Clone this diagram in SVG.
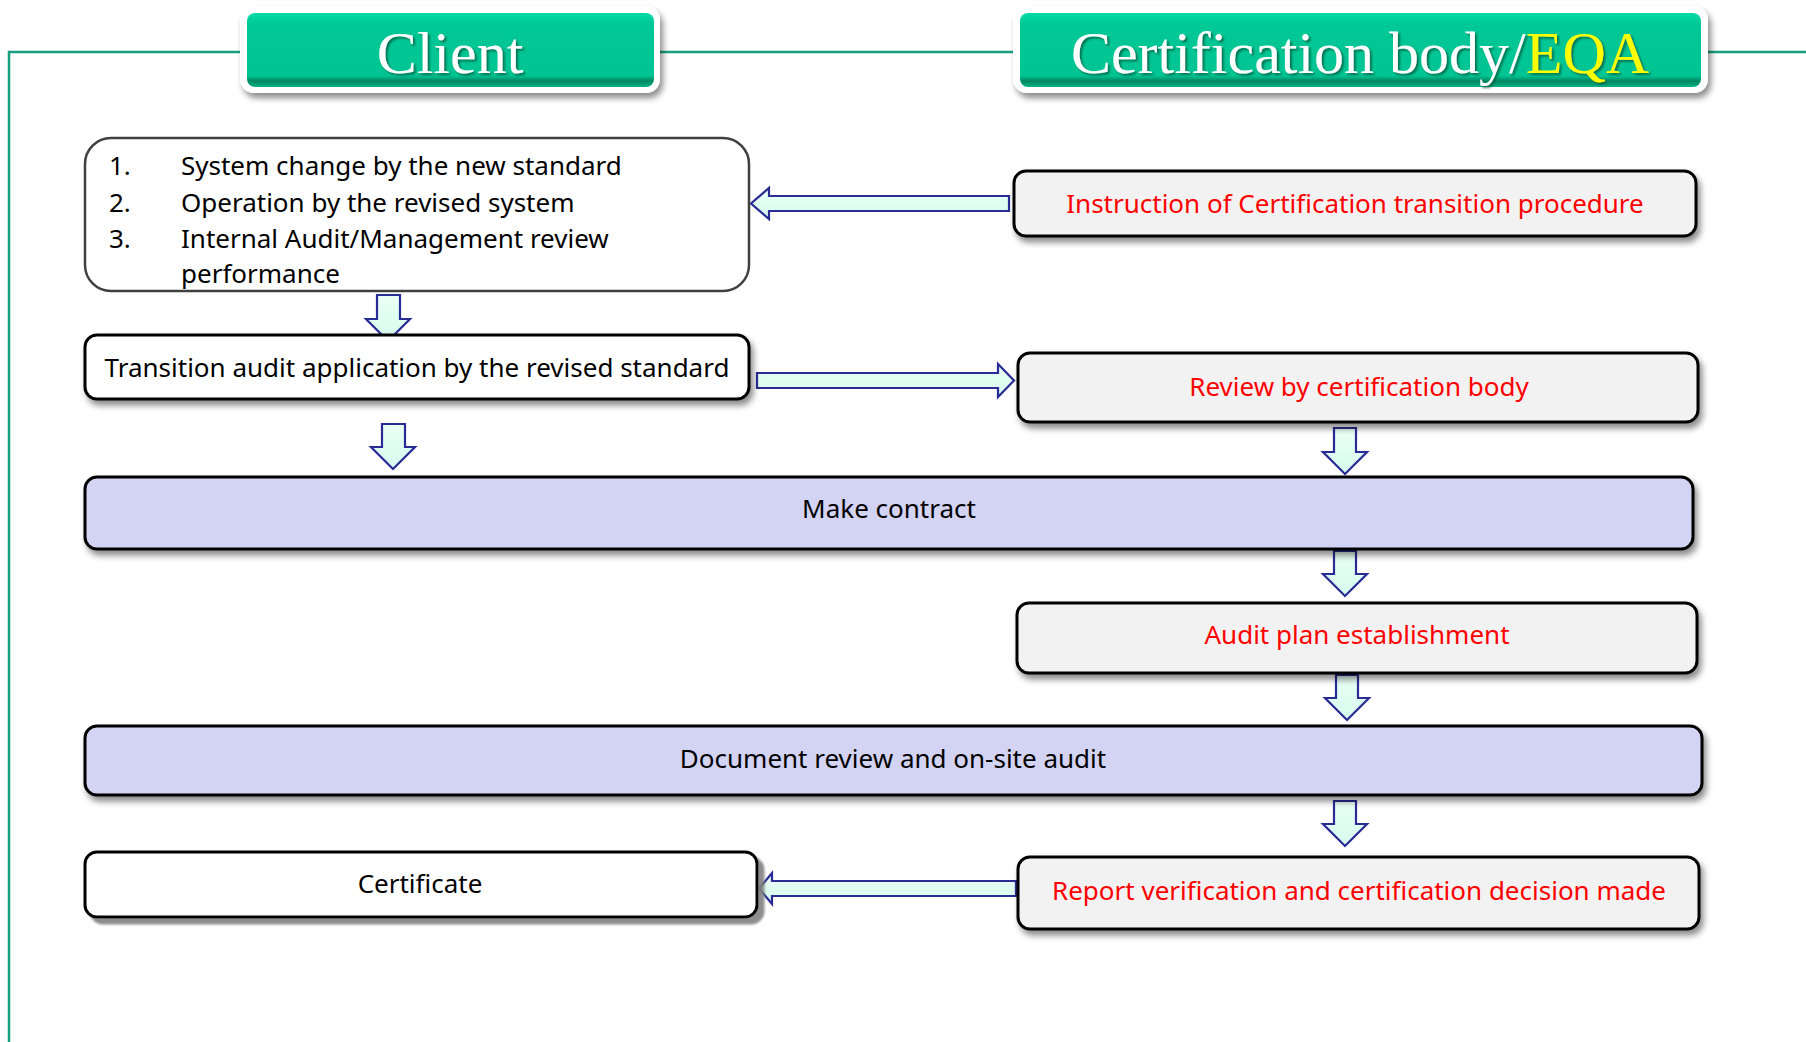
<svg xmlns="http://www.w3.org/2000/svg" width="1806" height="1042" viewBox="0 0 1806 1042">
<defs>
<style>
.t{font-family:"Noto Sans","Open Sans","Liberation Sans",sans-serif;font-size:26px;fill:#000}
.r{fill:#ff0000}
.c{text-anchor:middle}
.hd{font-family:"Liberation Serif","DejaVu Serif",serif;font-size:60px;fill:#fff;text-anchor:middle}
.box{stroke:#000;stroke-width:3}
.wb{fill:#fff}
.gb{fill:#f2f2f2}
.lb{fill:#d3d3f3}
.arr{fill:url(#mint);stroke:#2b2b96;stroke-width:2.2;stroke-linejoin:miter}
.gl{stroke:#16a080;stroke-width:2.5;fill:none}
</style>
<linearGradient id="hg" x1="0" y1="0" x2="0" y2="1">
<stop offset="0" stop-color="#00dba6"/>
<stop offset="0.15" stop-color="#00c896"/>
<stop offset="0.85" stop-color="#00c493"/>
<stop offset="0.92" stop-color="#00865f"/>
<stop offset="1" stop-color="#00b488"/>
</linearGradient>
<linearGradient id="mint" x1="0" y1="0" x2="0" y2="1">
<stop offset="0" stop-color="#eafff6"/>
<stop offset="1" stop-color="#d6fbec"/>
</linearGradient>
<filter id="sh" x="-5%" y="-20%" width="110%" height="150%">
<feDropShadow dx="3" dy="5" stdDeviation="3" flood-color="#000" flood-opacity="0.45"/>
</filter>
<filter id="sh2" x="-5%" y="-20%" width="110%" height="150%">
<feDropShadow dx="6" dy="6" stdDeviation="1" flood-color="#808080" flood-opacity="0.9"/>
</filter>
<filter id="ts" x="-5%" y="-20%" width="110%" height="150%">
<feDropShadow dx="2" dy="2" stdDeviation="1.2" flood-color="#004d36" flood-opacity="0.7"/>
</filter>
</defs>
<rect width="1806" height="1042" fill="#fff"/>
<g id="frame">
<path class="gl" d="M9,1042 V52 H1806"/>
</g>
<g id="hdr-client">
<rect x="240" y="6" width="420" height="87" rx="14" fill="#fff" filter="url(#sh)"/>
<rect x="247" y="13" width="407" height="74" rx="8" fill="url(#hg)"/>
<text class="hd" x="450" y="73" filter="url(#ts)">Client</text>
</g>
<g id="hdr-cb">
<rect x="1013" y="6" width="695" height="87" rx="14" fill="#fff" filter="url(#sh)"/>
<rect x="1020" y="13" width="681" height="74" rx="8" fill="url(#hg)"/>
<text class="hd" x="1360" y="73" filter="url(#ts)">Certification body/<tspan fill="#ffff00">EQA</tspan></text>
</g>
<g id="connectors">
<path class="arr" d="M1009,196 H769 V188 L751,203.5 L769,219 V211 H1009 Z"/>
<path class="arr" d="M757,373 H998 V364 L1014,380.5 L998,397 V388 H757 Z"/>
<path class="arr" d="M1016,881 H772 V873 L759,888.5 L772,904 V896 H1016 Z"/>
<path class="arr" d="M377,295 H400 V319 H410 L388,341 L366,319 H377 Z"/>
<path class="arr" d="M382,424 H405 V447 H415 L393,469 L371,447 H382 Z"/>
<path class="arr" d="M1334,428 H1356 V452 H1367 L1345,474 L1323,452 H1334 Z"/>
<path class="arr" d="M1334,551 H1356 V574 H1367 L1345,596 L1323,574 H1334 Z"/>
<path class="arr" d="M1336,675 H1358 V698 H1369 L1347,720 L1325,698 H1336 Z"/>
<path class="arr" d="M1334,801 H1356 V824 H1367 L1345,846 L1323,824 H1334 Z"/>
</g>
<g id="n-list">
<rect x="85" y="138" width="664" height="153" rx="26" fill="#fff" stroke="#404040" stroke-width="2.5"/>
<text class="t" x="109" y="175">1.</text><text class="t" x="181" y="175">System change by the new standard</text>
<text class="t" x="109" y="212">2.</text><text class="t" x="181" y="212">Operation by the revised system</text>
<text class="t" x="109" y="248">3.</text><text class="t" x="181" y="248">Internal Audit/Management review</text>
<text class="t" x="181" y="283">performance</text>
</g>
<g id="n-instr">
<rect class="box gb" x="1014" y="171" width="682" height="65" rx="12" filter="url(#sh)"/>
<text class="t r c" x="1355" y="213">Instruction of Certification transition procedure</text>
</g>
<g id="n-app">
<rect class="box wb" x="85" y="335" width="664" height="64" rx="12" filter="url(#sh)"/>
<text class="t c" x="417" y="377">Transition audit application by the revised standard</text>
</g>
<g id="n-review">
<rect class="box gb" x="1018" y="353" width="680" height="69" rx="12" filter="url(#sh)"/>
<text class="t r c" x="1359" y="396">Review by certification body</text>
</g>
<g id="n-contract">
<rect class="box lb" x="85" y="477" width="1608" height="72" rx="12" filter="url(#sh)"/>
<text class="t c" x="889" y="518">Make contract</text>
</g>
<g id="n-plan">
<rect class="box gb" x="1017" y="603" width="680" height="70" rx="12" filter="url(#sh)"/>
<text class="t r c" x="1357" y="644">Audit plan establishment</text>
</g>
<g id="n-doc">
<rect class="box lb" x="85" y="726" width="1617" height="69" rx="12" filter="url(#sh)"/>
<text class="t c" x="893" y="768">Document review and on-site audit</text>
</g>
<g id="n-cert">
<rect class="box wb" x="85" y="852" width="672" height="65" rx="12" filter="url(#sh2)"/>
<text class="t c" x="420" y="893">Certificate</text>
</g>
<g id="n-report">
<rect class="box gb" x="1018" y="857" width="681" height="72" rx="12" filter="url(#sh)"/>
<text class="t r c" x="1359" y="900">Report verification and certification decision made</text>
</g>
</svg>
